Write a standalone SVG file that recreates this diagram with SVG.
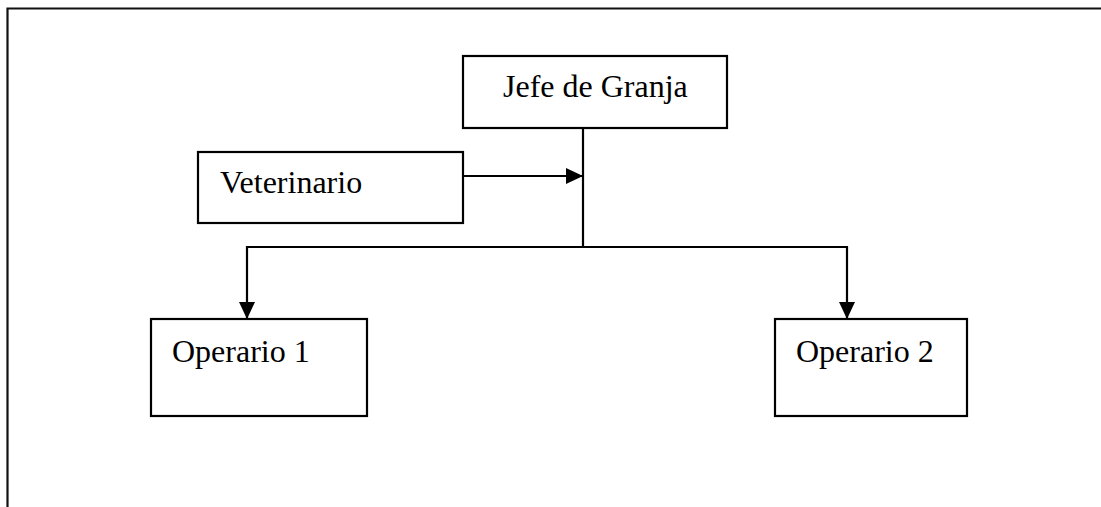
<svg xmlns="http://www.w3.org/2000/svg" width="1101" height="507" viewBox="0 0 1101 507">
  <style>
    .box { fill: #ffffff; stroke: #000000; stroke-width: 2.2; }
    .label { font-family: "Liberation Serif", "Times New Roman", serif; font-size: 32px; fill: #000000; }
    .link { fill: none; stroke: #000000; stroke-width: 2.2; }
    .frame { fill: none; stroke: #111111; stroke-width: 2.2; }
  </style>
  <defs>
    <marker id="arrow" markerUnits="userSpaceOnUse" viewBox="0 0 17 16" markerWidth="17" markerHeight="16" refX="17" refY="8" orient="auto">
      <path d="M0,0 L17,8 L0,16 Z" fill="#000000"/>
    </marker>
  </defs>

  <rect width="1101" height="507" fill="#ffffff"/>

  <!-- page frame (open on the right and bottom) -->
  <path class="frame" d="M1101,8.5 H7.5 V507"/>

  <g id="connectors">
    <path class="link" d="M583,128 V247"/>
    <path class="link" d="M463,176 H583" marker-end="url(#arrow)"/>
    <path class="link" d="M583,247 H247 V319" marker-end="url(#arrow)"/>
    <path class="link" d="M583,247 H847 V319" marker-end="url(#arrow)"/>
  </g>

  <g id="jefe">
    <rect class="box" x="463" y="56" width="264" height="72"/>
    <text class="label" x="503" y="97">Jefe de Granja</text>
  </g>

  <g id="veterinario">
    <rect class="box" x="198" y="152" width="265" height="71"/>
    <text class="label" x="220" y="193">Veterinario</text>
  </g>

  <g id="operario1">
    <rect class="box" x="151" y="319" width="216" height="97"/>
    <text class="label" x="172" y="362">Operario 1</text>
  </g>

  <g id="operario2">
    <rect class="box" x="775" y="319" width="192" height="97"/>
    <text class="label" x="796" y="362">Operario 2</text>
  </g>
</svg>
